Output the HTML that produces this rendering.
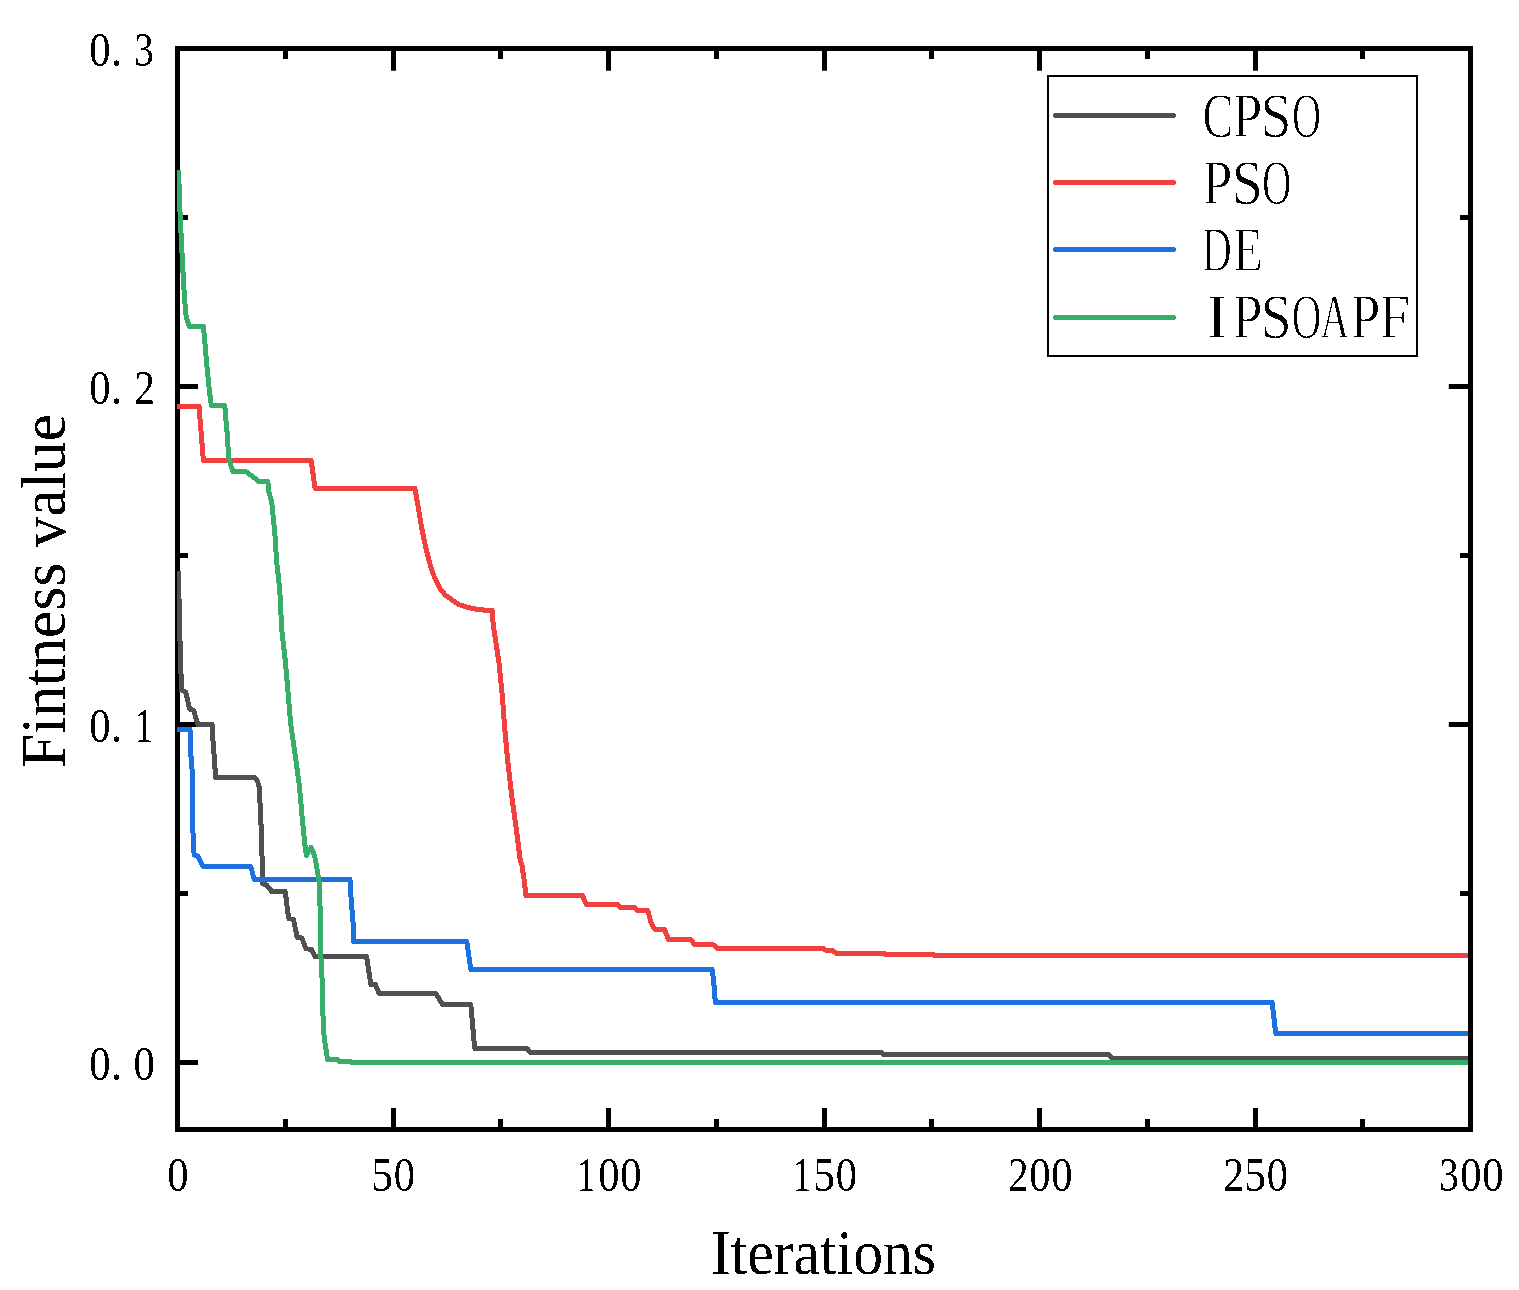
<!DOCTYPE html>
<html><head><meta charset="utf-8"><title>Fitness curves</title>
<style>html,body{margin:0;padding:0;background:#fff;} svg{display:block;}</style></head>
<body>
<svg width="1519" height="1290" viewBox="0 0 1519 1290">
<rect width="1519" height="1290" fill="#fff"/>
<defs><clipPath id="pa"><rect x="177" y="46" width="1291" height="1086"/></clipPath>
<filter id="th" x="-0.05" y="-0.05" width="1.1" height="1.1" filterUnits="objectBoundingBox" color-interpolation-filters="sRGB">
<feColorMatrix type="matrix" values="0 0 0 0 0  0 0 0 0 0  0 0 0 0 0  -1 0 0 1 0"/>
<feComponentTransfer><feFuncA type="discrete" tableValues="0 1"/></feComponentTransfer>
</filter></defs>

<rect x="177.5" y="48.5" width="1293.0" height="1081" fill="none" stroke="#000" stroke-width="5"/>
<path d="M285.50 1129.5 V1119.0 M285.50 48.5 V59.0 M393.50 1129.5 V1108.0 M393.50 48.5 V70.8 M500.50 1129.5 V1119.0 M500.50 48.5 V59.0 M608.50 1129.5 V1108.0 M608.50 48.5 V70.8 M716.50 1129.5 V1119.0 M716.50 48.5 V59.0 M824.50 1129.5 V1108.0 M824.50 48.5 V70.8 M931.50 1129.5 V1119.0 M931.50 48.5 V59.0 M1039.50 1129.5 V1108.0 M1039.50 48.5 V70.8 M1147.50 1129.5 V1119.0 M1147.50 48.5 V59.0 M1255.50 1129.5 V1108.0 M1255.50 48.5 V70.8 M1362.50 1129.5 V1119.0 M1362.50 48.5 V59.0 M177.5 1062.50 H198.0 M1470.5 1062.50 H1448.8 M177.5 893.50 H188.0 M1470.5 893.50 H1460.0 M177.5 724.50 H198.0 M1470.5 724.50 H1448.8 M177.5 555.50 H188.0 M1470.5 555.50 H1460.0 M177.5 386.50 H198.0 M1470.5 386.50 H1448.8 M177.5 217.50 H188.0 M1470.5 217.50 H1460.0" stroke="#000" stroke-width="5" fill="none"/>
<g clip-path="url(#pa)" fill="none" stroke-width="5.0" stroke-linejoin="round" shape-rendering="crispEdges">
<path d="M178.4 571.0 L179.8 634.0 L181.2 680.0 L181.6 690.2 L185.8 692.0 L189.5 708.8 L193.7 710.7 L197.9 724.5 L212.3 724.5 L212.8 737.7 L214.7 763.7 L215.6 777.5 L254.7 777.5 L257.5 781.0 L259.3 787.9 L261.6 837.2 L262.6 883.7 L266.7 885.0 L271.9 891.5 L285.3 891.5 L287.7 911.6 L288.8 918.6 L293.5 919.5 L297.2 937.2 L301.9 938.1 L306.0 948.8 L311.2 949.3 L314.9 956.5 L366.5 956.5 L367.9 965.1 L370.8 984.5 L375.3 984.5 L379.1 993.5 L435.9 993.5 L442.5 1004.5 L470.8 1004.5 L474.7 1048.5 L527.0 1048.5 L530.9 1052.5 L881.5 1052.5 L883.1 1054.5 L1108.4 1054.5 L1112.0 1058.5 L1470.0 1058.5" stroke="#505050"/>
<path d="M178.4 571.0 L179.8 634.0 L181.2 680.0 L181.6 690.2 L185.8 692.0 L189.5 708.8 L193.7 710.7 L197.9 724.5 L212.3 724.5 L212.8 737.7 L214.7 763.7 L215.6 777.5 L254.7 777.5 L257.5 781.0 L259.3 787.9 L261.6 837.2 L262.6 883.7 L266.7 885.0 L271.9 891.5 L285.3 891.5 L287.7 911.6 L288.8 918.6 L293.5 919.5 L297.2 937.2 L301.9 938.1 L306.0 948.8 L311.2 949.3 L314.9 956.5 L366.5 956.5 L367.9 965.1 L370.8 984.5 L375.3 984.5 L379.1 993.5 L435.9 993.5 L442.5 1004.5 L470.8 1004.5 L474.7 1048.5 L527.0 1048.5 L530.9 1052.5 L881.5 1052.5 L883.1 1054.5 L1108.4 1054.5 L1112.0 1058.5 L1470.0 1058.5" stroke="#505050" stroke-width="2.5"/>
<path d="M176.0 406.5 L199.0 406.5 L203.4 460.5 L311.2 460.5 L315.1 488.5 L414.9 488.5 L416.7 498.6 L419.1 512.6 L421.4 526.5 L424.2 540.5 L427.4 554.4 L431.2 568.4 L435.3 579.5 L440.0 588.8 L445.6 595.3 L451.2 599.3 L459.5 604.9 L470.3 608.0 L480.4 609.9 L492.0 610.3 L492.8 620.4 L494.3 632.0 L496.7 647.5 L499.0 663.0 L502.6 698.8 L504.5 725.9 L507.6 760.0 L512.1 798.8 L516.4 829.8 L520.2 860.0 L522.0 865.5 L524.3 881.0 L525.9 895.5 L582.5 895.5 L586.3 904.5 L617.9 904.5 L620.3 907.5 L634.5 907.5 L637.7 910.5 L647.9 910.5 L651.1 923.2 L655.0 929.5 L664.5 929.5 L668.5 939.5 L690.6 939.5 L694.5 944.5 L713.0 944.5 L717.5 948.5 L823.4 948.5 L826.1 950.5 L832.6 950.5 L836.3 953.5 L884.3 953.5 L885.0 954.5 L933.8 954.5 L934.5 955.5 L1470.0 955.5" stroke="#F04040"/>
<path d="M176.0 406.5 L199.0 406.5 L203.4 460.5 L311.2 460.5 L315.1 488.5 L414.9 488.5 L416.7 498.6 L419.1 512.6 L421.4 526.5 L424.2 540.5 L427.4 554.4 L431.2 568.4 L435.3 579.5 L440.0 588.8 L445.6 595.3 L451.2 599.3 L459.5 604.9 L470.3 608.0 L480.4 609.9 L492.0 610.3 L492.8 620.4 L494.3 632.0 L496.7 647.5 L499.0 663.0 L502.6 698.8 L504.5 725.9 L507.6 760.0 L512.1 798.8 L516.4 829.8 L520.2 860.0 L522.0 865.5 L524.3 881.0 L525.9 895.5 L582.5 895.5 L586.3 904.5 L617.9 904.5 L620.3 907.5 L634.5 907.5 L637.7 910.5 L647.9 910.5 L651.1 923.2 L655.0 929.5 L664.5 929.5 L668.5 939.5 L690.6 939.5 L694.5 944.5 L713.0 944.5 L717.5 948.5 L823.4 948.5 L826.1 950.5 L832.6 950.5 L836.3 953.5 L884.3 953.5 L885.0 954.5 L933.8 954.5 L934.5 955.5 L1470.0 955.5" stroke="#F04040" stroke-width="2.5"/>
<path d="M176.0 729.5 L190.0 729.5 L190.5 749.8 L192.3 773.0 L192.3 800.0 L193.3 846.5 L194.2 854.9 L197.9 856.0 L203.0 866.5 L250.9 866.5 L254.2 879.5 L350.0 879.5 L351.2 900.0 L353.5 927.9 L353.5 941.5 L466.8 941.5 L470.8 969.5 L712.2 969.5 L713.2 977.2 L714.4 989.6 L715.3 1002.5 L1272.2 1002.5 L1275.7 1033.5 L1470.0 1033.5" stroke="#1A71DF"/>
<path d="M176.0 729.5 L190.0 729.5 L190.5 749.8 L192.3 773.0 L192.3 800.0 L193.3 846.5 L194.2 854.9 L197.9 856.0 L203.0 866.5 L250.9 866.5 L254.2 879.5 L350.0 879.5 L351.2 900.0 L353.5 927.9 L353.5 941.5 L466.8 941.5 L470.8 969.5 L712.2 969.5 L713.2 977.2 L714.4 989.6 L715.3 1002.5 L1272.2 1002.5 L1275.7 1033.5 L1470.0 1033.5" stroke="#1A71DF" stroke-width="2.5"/>
<path d="M178.5 170.0 L180.2 217.0 L183.4 280.0 L184.3 294.0 L185.5 310.2 L186.2 317.2 L189.4 326.5 L203.4 326.5 L204.1 333.5 L206.2 358.6 L208.0 377.2 L209.6 392.7 L211.4 405.5 L224.8 405.5 L225.9 420.0 L227.2 433.6 L228.0 447.1 L228.8 458.0 L230.7 465.0 L232.9 471.5 L245.9 471.5 L259.0 481.5 L267.9 481.5 L268.4 490.0 L271.7 502.0 L274.8 533.0 L276.5 560.0 L278.7 579.5 L280.0 595.0 L281.8 630.0 L285.3 661.0 L288.0 692.0 L290.6 723.0 L295.0 754.0 L299.3 785.0 L302.4 820.0 L303.6 832.4 L304.9 844.8 L306.4 855.4 L311.1 847.3 L314.5 855.4 L316.1 863.4 L317.6 872.7 L319.2 882.0 L319.8 894.4 L320.9 955.8 L322.3 983.7 L323.3 1029.5 L325.3 1045.3 L327.6 1059.5 L337.9 1059.5 L339.5 1061.5 L350.6 1061.5 L351.3 1062.5 L1470.0 1062.5" stroke="#36AE6A"/>
<path d="M178.5 170.0 L180.2 217.0 L183.4 280.0 L184.3 294.0 L185.5 310.2 L186.2 317.2 L189.4 326.5 L203.4 326.5 L204.1 333.5 L206.2 358.6 L208.0 377.2 L209.6 392.7 L211.4 405.5 L224.8 405.5 L225.9 420.0 L227.2 433.6 L228.0 447.1 L228.8 458.0 L230.7 465.0 L232.9 471.5 L245.9 471.5 L259.0 481.5 L267.9 481.5 L268.4 490.0 L271.7 502.0 L274.8 533.0 L276.5 560.0 L278.7 579.5 L280.0 595.0 L281.8 630.0 L285.3 661.0 L288.0 692.0 L290.6 723.0 L295.0 754.0 L299.3 785.0 L302.4 820.0 L303.6 832.4 L304.9 844.8 L306.4 855.4 L311.1 847.3 L314.5 855.4 L316.1 863.4 L317.6 872.7 L319.2 882.0 L319.8 894.4 L320.9 955.8 L322.3 983.7 L323.3 1029.5 L325.3 1045.3 L327.6 1059.5 L337.9 1059.5 L339.5 1061.5 L350.6 1061.5 L351.3 1062.5 L1470.0 1062.5" stroke="#36AE6A" stroke-width="2.5"/>
</g>
<g filter="url(#th)">
<g font-family="'Liberation Serif', 'Noto Serif CJK SC', serif" fill="#000">
<text y="1191.40" font-size="47.8"><tspan x="167.32" textLength="21.35" lengthAdjust="spacingAndGlyphs">0</tspan></text>
<text y="1191.40" font-size="47.8"><tspan x="371.03" textLength="22.09" lengthAdjust="spacingAndGlyphs">5</tspan><tspan x="393.82" textLength="21.35" lengthAdjust="spacingAndGlyphs">0</tspan></text>
<text y="1191.40" font-size="47.8"><tspan x="577.10" textLength="18.75" lengthAdjust="spacingAndGlyphs">1</tspan><tspan x="598.32" textLength="21.35" lengthAdjust="spacingAndGlyphs">0</tspan><tspan x="620.32" textLength="21.35" lengthAdjust="spacingAndGlyphs">0</tspan></text>
<text y="1191.40" font-size="47.8"><tspan x="792.60" textLength="18.75" lengthAdjust="spacingAndGlyphs">1</tspan><tspan x="813.03" textLength="22.09" lengthAdjust="spacingAndGlyphs">5</tspan><tspan x="835.82" textLength="21.35" lengthAdjust="spacingAndGlyphs">0</tspan></text>
<text y="1191.40" font-size="47.8"><tspan x="1007.94" textLength="20.58" lengthAdjust="spacingAndGlyphs">2</tspan><tspan x="1029.32" textLength="21.35" lengthAdjust="spacingAndGlyphs">0</tspan><tspan x="1051.32" textLength="21.35" lengthAdjust="spacingAndGlyphs">0</tspan></text>
<text y="1191.40" font-size="47.8"><tspan x="1223.44" textLength="20.58" lengthAdjust="spacingAndGlyphs">2</tspan><tspan x="1244.03" textLength="22.09" lengthAdjust="spacingAndGlyphs">5</tspan><tspan x="1266.82" textLength="21.35" lengthAdjust="spacingAndGlyphs">0</tspan></text>
<text y="1191.40" font-size="47.8"><tspan x="1439.15" textLength="19.37" lengthAdjust="spacingAndGlyphs">3</tspan><tspan x="1460.32" textLength="21.35" lengthAdjust="spacingAndGlyphs">0</tspan><tspan x="1482.32" textLength="21.35" lengthAdjust="spacingAndGlyphs">0</tspan></text>
<text y="1080.30" font-size="47.8"><tspan x="89.32" textLength="21.35" lengthAdjust="spacingAndGlyphs">0</tspan><tspan x="111.00" textLength="11.00" lengthAdjust="spacingAndGlyphs">.</tspan><tspan x="133.52" textLength="21.35" lengthAdjust="spacingAndGlyphs">0</tspan></text>
<text y="742.20" font-size="47.8"><tspan x="89.32" textLength="21.35" lengthAdjust="spacingAndGlyphs">0</tspan><tspan x="111.00" textLength="11.00" lengthAdjust="spacingAndGlyphs">.</tspan><tspan x="134.30" textLength="18.75" lengthAdjust="spacingAndGlyphs">1</tspan></text>
<text y="404.10" font-size="47.8"><tspan x="89.32" textLength="21.35" lengthAdjust="spacingAndGlyphs">0</tspan><tspan x="111.00" textLength="11.00" lengthAdjust="spacingAndGlyphs">.</tspan><tspan x="134.14" textLength="20.58" lengthAdjust="spacingAndGlyphs">2</tspan></text>
<text y="66.00" font-size="47.8"><tspan x="89.32" textLength="21.35" lengthAdjust="spacingAndGlyphs">0</tspan><tspan x="111.00" textLength="11.00" lengthAdjust="spacingAndGlyphs">.</tspan><tspan x="134.35" textLength="19.37" lengthAdjust="spacingAndGlyphs">3</tspan></text>
</g>
<text font-family="'Liberation Serif', 'Noto Serif CJK SC', serif" font-size="59.7" transform="translate(712.9 1274) scale(1 1.058)" x="-2.2">Iterations</text>
<text font-family="'Liberation Serif', 'Noto Serif CJK SC', serif" font-size="61.6" transform="translate(65.2 765.8) rotate(-90) scale(1 1.025)" x="-2.2">Fintness value</text>
</g>
<rect x="1048" y="76" width="369" height="280" fill="#fff" stroke="#000" stroke-width="2"/>
<path d="M1055.5 115.5 H1173.5" stroke="#505050" stroke-width="5.0" stroke-linecap="round" fill="none" shape-rendering="crispEdges"/>
<path d="M1055.5 182.5 H1173.5" stroke="#F04040" stroke-width="5.0" stroke-linecap="round" fill="none" shape-rendering="crispEdges"/>
<path d="M1055.5 249.5 H1173.5" stroke="#1A71DF" stroke-width="5.0" stroke-linecap="round" fill="none" shape-rendering="crispEdges"/>
<path d="M1055.5 317.5 H1173.5" stroke="#36AE6A" stroke-width="5.0" stroke-linecap="round" fill="none" shape-rendering="crispEdges"/>
<g font-family="'Liberation Serif', 'Noto Serif CJK SC', serif" fill="#000" stroke="#fff" stroke-width="0.8" filter="url(#th)">
<text y="137.20" font-size="63.4"><tspan x="1202.42" textLength="30.62" lengthAdjust="spacingAndGlyphs">C</tspan><tspan x="1232.12" textLength="30.47" lengthAdjust="spacingAndGlyphs">P</tspan><tspan x="1260.57" textLength="30.98" lengthAdjust="spacingAndGlyphs">S</tspan><tspan x="1291.95" textLength="29.11" lengthAdjust="spacingAndGlyphs">O</tspan></text>
<text y="204.30" font-size="63.4"><tspan x="1201.92" textLength="30.47" lengthAdjust="spacingAndGlyphs">P</tspan><tspan x="1231.76" textLength="31.11" lengthAdjust="spacingAndGlyphs">S</tspan><tspan x="1262.03" textLength="29.33" lengthAdjust="spacingAndGlyphs">O</tspan></text>
<text y="271.20" font-size="63.4"><tspan x="1202.32" textLength="29.51" lengthAdjust="spacingAndGlyphs">D</tspan><tspan x="1233.10" textLength="29.73" lengthAdjust="spacingAndGlyphs">E</tspan></text>
<text y="338.30" font-size="63.4"><tspan x="1205.30" textLength="23.92" lengthAdjust="spacingAndGlyphs">I</tspan><tspan x="1232.13" textLength="30.36" lengthAdjust="spacingAndGlyphs">P</tspan><tspan x="1260.69" textLength="30.85" lengthAdjust="spacingAndGlyphs">S</tspan><tspan x="1291.82" textLength="29.56" lengthAdjust="spacingAndGlyphs">O</tspan><tspan x="1320.21" textLength="28.99" lengthAdjust="spacingAndGlyphs">A</tspan><tspan x="1350.13" textLength="30.24" lengthAdjust="spacingAndGlyphs">P</tspan><tspan x="1379.08" textLength="31.25" lengthAdjust="spacingAndGlyphs">F</tspan></text>
</g>
</svg>
</body></html>
